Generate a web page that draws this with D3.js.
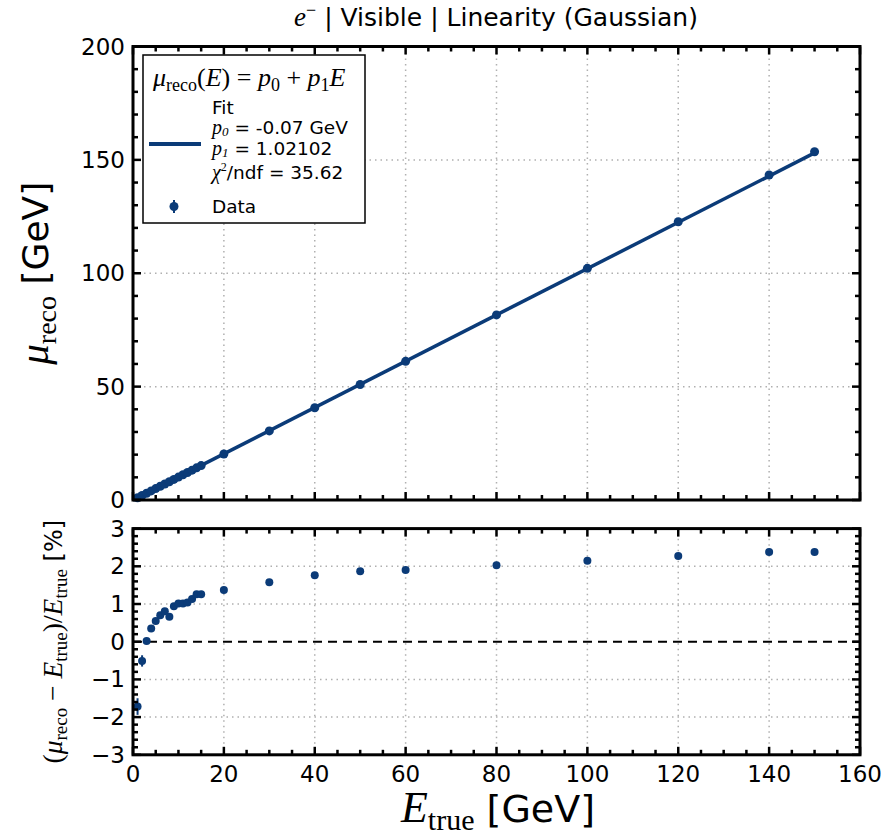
<!DOCTYPE html>
<html lang="en">
<head>
  <meta charset="UTF-8">
  <title>Linearity (Gaussian)</title>
  <script src="https://d3js.org/d3.v7.min.js"></script>
  <style>
    body { margin: 0; background: #fff; }
    svg { display: block; }
    .tick-label { font-family: 'DejaVu Sans', sans-serif; font-size: 23px; fill: #000; }
    .math { font-family: 'Liberation Serif', 'DejaVu Serif', serif; }
    .sans { font-family: 'DejaVu Sans', sans-serif; }
  </style>
</head>
<body>
  <svg width="886" height="835"></svg>
  <script>
    // data
    const energies = [1, 2, 3, 4, 5, 6, 7, 8, 9, 10, 11, 12, 13, 14, 15, 20, 30, 40, 50, 60, 80, 100, 120, 140, 150];
    const muReco = [0.983, 1.990, 3.001, 4.014, 5.028, 6.042, 7.057, 8.053, 9.085, 10.101, 11.111, 12.125, 13.147,
      14.176, 15.189, 20.274, 30.474, 40.704, 50.935, 61.14, 81.624, 102.15, 122.724, 143.332, 153.57];
    const residuals = [-1.72, -0.51, 0.02, 0.35, 0.55, 0.70, 0.81, 0.66, 0.94, 1.01, 1.01, 1.04, 1.13,
      1.26, 1.26, 1.37, 1.58, 1.76, 1.87, 1.90, 2.03, 2.15, 2.27, 2.38, 2.38];
    const residualErrors = [0.22, 0.15, 0.06, 0.05, 0.04, 0.04, 0.03, 0.03, 0.03, 0.03, 0.03, 0.03, 0.02,
      0.02, 0.02, 0.02, 0.02, 0.01, 0.01, 0.01, 0.01, 0.01, 0.01, 0.01, 0.01];
    const fitP0 = -0.07, fitP1 = 1.02102, chi2ndf = 35.62;
    const xTicks = [0, 20, 40, 60, 80, 100, 120, 140, 160];
    const yTopTicks = [0, 50, 100, 150, 200];
    const yBotTicks = [-3, -2, -1, 0, 1, 2, 3];

    const color = "#0b3b78";
    const svg = d3.select("svg");
    const left = 133, right = 860;

    const x = d3.scaleLinear().domain([0, 160]).range([left, right]);
    const yTop = d3.scaleLinear().domain([0, 200]).range([500, 46.5]);
    const yBot = d3.scaleLinear().domain([-3, 3]).range([754.8, 528.6]);

    function grid(g, yScale, yVals) {
      const [y0, y1] = yScale.range();
      g.selectAll(".vg").data(xTicks.slice(1, -1)).enter().append("line")
        .attr("x1", d => x(d)).attr("x2", d => x(d)).attr("y1", y0).attr("y2", y1)
        .attr("stroke", "#b0b0b0").attr("stroke-width", 1.5).attr("stroke-dasharray", "1.5,4");
      g.selectAll(".hg").data(yVals).enter().append("line")
        .attr("x1", left).attr("x2", right).attr("y1", d => yScale(d)).attr("y2", d => yScale(d))
        .attr("stroke", "#b0b0b0").attr("stroke-width", 1.5).attr("stroke-dasharray", "1.5,4");
    }

    function frame(g, yScale, yMinor, yMajor, showXLabels) {
      const [y0, y1] = yScale.range();
      const xMinor = d3.range(0, 161, 5);
      const tick = (x1, y1_, x2, y2, w) => g.append("line")
        .attr("x1", x1).attr("y1", y1_).attr("x2", x2).attr("y2", y2)
        .attr("stroke", "#000").attr("stroke-width", w);
      xMinor.forEach(v => {
        const major = v % 20 === 0;
        const len = major ? 8 : 5;
        tick(x(v), y0, x(v), y0 - len, 2.5);
        tick(x(v), y1, x(v), y1 + len, 2.5);
      });
      yMinor.forEach(v => {
        const major = yMajor.some(m => Math.abs(m - v) < 1e-6);
        const len = major ? 8 : 5;
        tick(left, yScale(v), left + len, yScale(v), 2.5);
        tick(right, yScale(v), right - len, yScale(v), 2.5);
      });
      g.append("rect").attr("x", left).attr("y", y1).attr("width", right - left).attr("height", y0 - y1)
        .attr("fill", "none").attr("stroke", "#000").attr("stroke-width", 3);
      g.selectAll(".yl").data(yMajor).enter().append("text")
        .attr("class", "tick-label").attr("x", left - 8).attr("y", d => yScale(d) + 8)
        .attr("text-anchor", "end").text(d => d3.format("")(d));
      if (showXLabels) {
        g.selectAll(".xl").data(xTicks).enter().append("text")
          .attr("class", "tick-label").attr("x", d => x(d)).attr("y", y0 + 27)
          .attr("text-anchor", "middle").text(d => d);
      }
    }

    // ---------- top panel ----------
    const topG = svg.append("g");
    grid(topG, yTop, [50, 100, 150]);

    const fitLine = d3.line().x(d => x(d)).y(d => yTop(fitP0 + fitP1 * d));
    topG.append("path").datum([0, 150]).attr("d", fitLine)
      .attr("fill", "none").attr("stroke", color).attr("stroke-width", 3.5);
    topG.selectAll(".pt").data(energies).enter().append("circle")
      .attr("cx", d => x(d)).attr("cy", (d, i) => yTop(muReco[i])).attr("r", 4.5).attr("fill", color);

    frame(topG, yTop, d3.range(0, 201, 10), yTopTicks, false);

    // legend
    const lg = topG.append("g");
    lg.append("rect").attr("x", 143).attr("y", 55).attr("width", 222).attr("height", 168)
      .attr("fill", "#fff").attr("stroke", "#000").attr("stroke-width", 1.5);
    const lt = lg.append("text").attr("class", "math").attr("x", 153).attr("y", 86).attr("font-size", 26);
    lt.append("tspan").attr("font-style", "italic").text("μ");
    lt.append("tspan").attr("font-size", 18).attr("dy", 5).text("reco");
    lt.append("tspan").attr("dy", -5).text("(");
    lt.append("tspan").attr("font-style", "italic").text("E");
    lt.append("tspan").text(") = ");
    lt.append("tspan").attr("font-style", "italic").text("p");
    lt.append("tspan").attr("font-size", 18).attr("dy", 5).text("0");
    lt.append("tspan").attr("dy", -5).text(" + ");
    lt.append("tspan").attr("font-style", "italic").text("p");
    lt.append("tspan").attr("font-size", 18).attr("dy", 5).text("1");
    lt.append("tspan").attr("dy", -5).attr("font-style", "italic").text("E");

    lg.append("line").attr("x1", 149).attr("x2", 201).attr("y1", 144).attr("y2", 144)
      .attr("stroke", color).attr("stroke-width", 4);
    const fs = 18.5;
    lg.append("text").attr("class", "sans").attr("x", 212).attr("y", 114).attr("font-size", fs).text("Fit");
    function paramLine(yy, sub, rest) {
      const t = lg.append("text").attr("x", 212).attr("y", yy).attr("font-size", fs);
      t.append("tspan").attr("class", "math").attr("font-style", "italic").attr("font-size", 20).text("p");
      t.append("tspan").attr("class", "math").attr("font-style", "italic").attr("font-size", 13).attr("dy", 2).text(sub);
      t.append("tspan").attr("class", "sans").attr("dy", -2).text(rest);
    }
    paramLine(134, "0", " = " + fitP0.toFixed(2) + " GeV");
    paramLine(155, "1", " = " + fitP1);
    const ct = lg.append("text").attr("x", 212).attr("y", 179).attr("font-size", fs);
    ct.append("tspan").attr("class", "math").attr("font-style", "italic").attr("font-size", 20).text("χ");
    ct.append("tspan").attr("class", "math").attr("font-size", 12).attr("dy", -8).text("2");
    ct.append("tspan").attr("class", "sans").attr("dy", 8).text("/ndf = " + chi2ndf);
    lg.append("line").attr("x1", 174).attr("x2", 174).attr("y1", 200).attr("y2", 213)
      .attr("stroke", color).attr("stroke-width", 2);
    lg.append("circle").attr("cx", 174).attr("cy", 206.5).attr("r", 4.5).attr("fill", color);
    lg.append("text").attr("class", "sans").attr("x", 212).attr("y", 213).attr("font-size", fs).text("Data");

    // title
    const tt = svg.append("text").attr("x", 496).attr("y", 26).attr("text-anchor", "middle").attr("font-size", 25);
    tt.append("tspan").attr("class", "math").attr("font-style", "italic").attr("font-size", 27).text("e");
    tt.append("tspan").attr("class", "math").attr("font-size", 18).attr("dy", -10).text("−");
    tt.append("tspan").attr("class", "sans").attr("dy", 10).text("  | Visible | Linearity (Gaussian)");

    // y label top
    const yl = svg.append("text").attr("transform", `translate(48,${yTop(100)}) rotate(-90)`)
      .attr("text-anchor", "middle").attr("font-size", 36);
    yl.append("tspan").attr("class", "math").attr("font-style", "italic").attr("font-size", 41).text("μ");
    yl.append("tspan").attr("class", "math").attr("font-size", 28).attr("dy", 8).text("reco");
    yl.append("tspan").attr("class", "sans").attr("dy", -8).text(" [GeV]");

    // ---------- bottom panel ----------
    const botG = svg.append("g");
    grid(botG, yBot, [-2, -1, 1, 2]);
    botG.append("line").attr("x1", left).attr("x2", right).attr("y1", yBot(0)).attr("y2", yBot(0))
      .attr("stroke", "#000").attr("stroke-width", 2).attr("stroke-dasharray", "9,6");
    botG.selectAll(".eb").data(energies).enter().append("line")
      .attr("x1", d => x(d)).attr("x2", d => x(d))
      .attr("y1", (d, i) => yBot(residuals[i] - residualErrors[i]))
      .attr("y2", (d, i) => yBot(residuals[i] + residualErrors[i]))
      .attr("stroke", color).attr("stroke-width", 2);
    botG.selectAll(".rp").data(energies).enter().append("circle")
      .attr("cx", d => x(d)).attr("cy", (d, i) => yBot(residuals[i])).attr("r", 4).attr("fill", color);

    frame(botG, yBot, d3.range(-3, 3.001, 0.2).map(v => +v.toFixed(1)), yBotTicks, true);

    // bottom y label
    const bl = svg.append("text").attr("class", "math")
      .attr("transform", `translate(62,${yBot(0)}) rotate(-90)`)
      .attr("text-anchor", "middle").attr("font-size", 27.5);
    bl.append("tspan").text("(");
    bl.append("tspan").attr("font-style", "italic").text("μ");
    bl.append("tspan").attr("font-size", 19).attr("dy", 5).text("reco");
    bl.append("tspan").attr("dy", -5).text(" − ");
    bl.append("tspan").attr("font-style", "italic").text("E");
    bl.append("tspan").attr("font-size", 19).attr("dy", 5).text("true");
    bl.append("tspan").attr("dy", -5).text(")/");
    bl.append("tspan").attr("font-style", "italic").text("E");
    bl.append("tspan").attr("font-size", 19).attr("dy", 5).text("true");
    bl.append("tspan").attr("class", "sans").attr("font-size", 24).attr("dy", -5).text(" [%]");

    // x label
    const xl = svg.append("text").attr("x", 498).attr("y", 822).attr("text-anchor", "middle").attr("font-size", 38);
    xl.append("tspan").attr("class", "math").attr("font-style", "italic").attr("font-size", 44).text("E");
    xl.append("tspan").attr("class", "math").attr("font-size", 30).attr("dy", 8).text("true");
    xl.append("tspan").attr("class", "sans").attr("dy", -8).text(" [GeV]");
  </script>
</body>
</html>
